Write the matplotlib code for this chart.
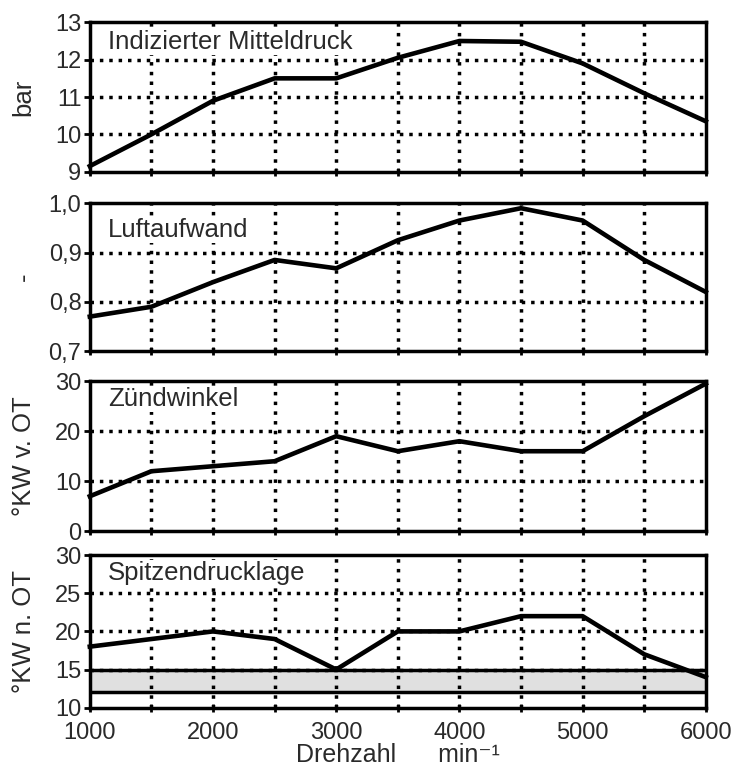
import matplotlib
matplotlib.use('Agg')
import matplotlib.pyplot as plt
import numpy as np

plt.rcParams['font.family'] = ['Liberation Sans', 'DejaVu Sans']

drehzahl = [1000, 1500, 2000, 2500, 3000, 3500, 4000, 4500, 5000, 5500, 6000]
mitteldruck = [9.15, 10.0, 10.9, 11.5, 11.5, 12.05, 12.5, 12.48, 11.9, 11.1, 10.35]
luftaufwand = [0.77, 0.79, 0.84, 0.885, 0.868, 0.925, 0.965, 0.99, 0.965, 0.885, 0.82]
zuendwinkel = [7, 12, 13, 14, 19, 16, 18, 16, 16, 23, 29.5]
spitzendruck = [18, 19, 20, 19, 15, 20, 20, 22, 22, 17, 14]
band = [12, 15]

panels = [
    ('Indizierter Mitteldruck', 'bar', mitteldruck, [9, 10, 11, 12, 13], ['9', '10', '11', '12', '13']),
    ('Luftaufwand', '-', luftaufwand, [0.7, 0.8, 0.9, 1.0], ['0,7', '0,8', '0,9', '1,0']),
    ('Zündwinkel', '°KW v. OT', zuendwinkel, [0, 10, 20, 30], ['0', '10', '20', '30']),
    ('Spitzendrucklage', '°KW n. OT', spitzendruck, [10, 15, 20, 25, 30], ['10', '15', '20', '25', '30']),
]
rects = [(0.971, 0.777), (0.736, 0.544), (0.505, 0.310), (0.279, 0.081)]
name_y = [0.867, 0.818, 0.88, 0.882]

fig = plt.figure(figsize=(7.36, 7.70), dpi=100)
for i, (name, ylab, vals, yt, ytl) in enumerate(panels):
    top, bot = rects[i]
    ax = fig.add_axes([0.122, bot, 0.837, top - bot])
    ax.set_xlim(1000, 6000)
    ax.set_ylim(yt[0], yt[-1])
    for x in range(1500, 6000, 500):
        ax.axvline(x, color='black', lw=2.5, ls=(0, (1, 1.8)), zorder=1)
    for y in yt[1:-1]:
        ax.axhline(y, color='black', lw=2.5, ls=(0, (1, 1.7)), zorder=1)
    if i == 3:
        ax.axhspan(band[0], band[1], color='#e0e0e0', zorder=0.5)
        ax.axhline(band[0], color='black', lw=2.5, zorder=2)
        ax.axhline(band[1], color='black', lw=2.5, zorder=2)
    ax.plot(drehzahl, vals, color='black', lw=3.3, zorder=3, clip_on=False)
    ax.text(0.03, name_y[i], name, transform=ax.transAxes, fontsize=18.5, va='center', ha='left',
            color='#2a2a2a', zorder=4,
            bbox=dict(facecolor='white', edgecolor='none', pad=1))
    ax.set_yticks(yt)
    ax.set_yticklabels(ytl, fontsize=17, color='#2a2a2a')
    ax.set_xticks(range(1000, 6001, 1000))
    ax.set_xticks(range(1500, 6000, 1000), minor=True)
    ax.tick_params(axis='y', direction='out', length=4, width=2, pad=2)
    ax.tick_params(axis='x', which='both', direction='inout', length=6, width=2, pad=7)
    if i < 3:
        ax.set_xticklabels([])
    else:
        ax.set_xticklabels([str(v) for v in range(1000, 6001, 1000)], fontsize=17, color='#2a2a2a')
    ax.set_ylabel(ylab, fontsize=18.5, color='#2a2a2a')
    ax.yaxis.set_label_coords(-0.088, 0.5)
    for s in ax.spines.values():
        s.set_linewidth(2.5)

fig.text(0.54, 0.019, 'Drehzahl      min⁻¹', fontsize=18, ha='center', va='center', color='#2a2a2a')

fig.savefig('out.png', dpi=100)
